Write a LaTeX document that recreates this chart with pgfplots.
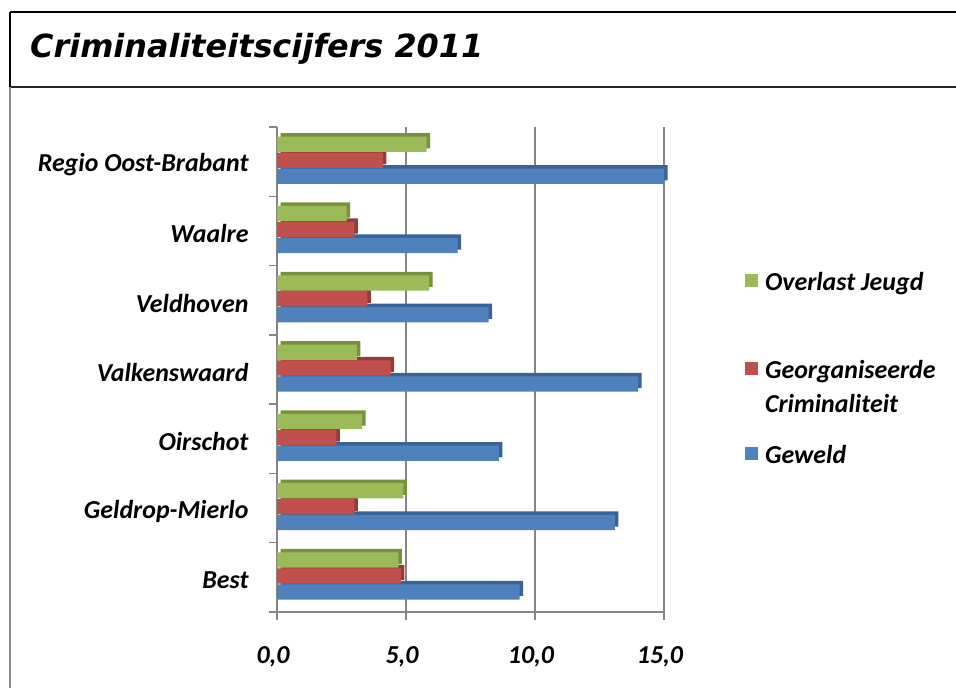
\documentclass[border=0pt]{standalone}
\usepackage{pgfplots}
\pgfplotsset{compat=1.18}
\usepackage{fontspec}
\setmainfont{Carlito}
\newfontfamily\titlefont{DejaVu Sans}

\definecolor{geweld}{HTML}{4F81BD}
\definecolor{geweldD}{HTML}{3A6497}
\definecolor{georg}{HTML}{C0504D}
\definecolor{georgD}{HTML}{953B39}
\definecolor{jeugd}{HTML}{9BBB59}
\definecolor{jeugdD}{HTML}{76923C}
\definecolor{axgray}{HTML}{868686}

\begin{document}
\begin{tikzpicture}
\useasboundingbox (0,0) rectangle (956bp,688bp);
% frame and title
\draw[black, line width=2bp] (10bp,676bp) -- (956bp,676bp);
\draw[black!85, line width=1.6bp] (10bp,601bp) -- (956bp,601bp);
\draw[black, line width=1.6bp] (10bp,676bp) -- (10bp,601bp);
\draw[black!45, line width=1.6bp] (10bp,601bp) -- (10bp,0bp);
\node[anchor=base west, inner sep=0pt, font=\titlefont\bfseries\itshape\fontsize{32}{36}\selectfont]
  at (30bp,630bp) {Criminaliteitscijfers 2011};

\begin{axis}[
    at={(277bp,76bp)}, anchor=south west,
    scale only axis,
    width=387bp, height=485bp,
    clip=false,
    xbar,
    bar width=0.22,
    xmin=0, xmax=15,
    ymin=-0.5, ymax=6.5,
    xtick={0,5,10,15},
    xticklabel={\pgfmathprintnumber[fixed,fixed zerofill,precision=1,use comma]{\tick}},
    ytick={0,...,6},
    yticklabels={Best,Geldrop-Mierlo,Oirschot,Valkenswaard,Veldhoven,Waalre,Regio Oost-Brabant},
    minor ytick={-0.5,0.5,...,6.5},
    major y tick style={draw=none},
    minor tick length=8bp,
    major tick length=8bp,
    tick align=outside,
    tick style={axgray, line width=1.3bp},
    axis x line*=bottom,
    axis y line*=left,
    axis line style={axgray, line width=1.3bp, -},
    xmajorgrids,
    grid style={axgray, line width=1.3bp},
    ticklabel style={font=\bfseries\itshape\fontsize{26}{30}\selectfont},
    /pgf/number format/assume math mode=true,
    xticklabel style={yshift=-23bp, xshift=-4bp},
    yticklabel style={xshift=-17bp, yshift=-3bp},
    legend style={draw=none, fill=none, at={(1.209,0.705)}, anchor=north west,
        inner sep=0pt, row sep=10bp, column sep=5bp,
        nodes={inner sep=2bp, anchor=base west},
        font=\bfseries\itshape\fontsize{26}{34}\selectfont},
    legend cell align=left,
    legend image code/.code={\fill[#1] (0bp,3bp) rectangle (13bp,16bp);},
    reverse legend,
]
\addplot[forget plot, fill=geweldD, draw=none, bar shift=-0.21, xshift=3.5bp, yshift=3.5bp]
  coordinates {(9.4,0) (13.1,1) (8.6,2) (14.0,3) (8.2,4) (7.0,5) (15.0,6)};
\addplot[fill=geweld, draw=none, bar shift=-0.21]
  coordinates {(9.4,0) (13.1,1) (8.6,2) (14.0,3) (8.2,4) (7.0,5) (15.0,6)};
\addlegendentry{Geweld}
\addplot[forget plot, fill=georgD, draw=none, bar shift=0.02, xshift=3.5bp, yshift=3.5bp]
  coordinates {(4.8,0) (3.0,1) (2.3,2) (4.4,3) (3.5,4) (3.0,5) (4.1,6)};
\addplot[fill=georg, draw=none, bar shift=0.02]
  coordinates {(4.8,0) (3.0,1) (2.3,2) (4.4,3) (3.5,4) (3.0,5) (4.1,6)};
\addlegendentry[text depth=53bp]{\begin{tabular}[t]{@{}l@{}}Georganiseerde\\Criminaliteit\end{tabular}}
\addplot[forget plot, fill=jeugdD, draw=none, bar shift=0.25, xshift=3.5bp, yshift=3.5bp]
  coordinates {(4.7,0) (4.9,1) (3.3,2) (3.1,3) (5.9,4) (2.7,5) (5.8,6)};
\addplot[fill=jeugd, draw=none, bar shift=0.25]
  coordinates {(4.7,0) (4.9,1) (3.3,2) (3.1,3) (5.9,4) (2.7,5) (5.8,6)};
\addlegendentry[text depth=50bp]{Overlast Jeugd}
\end{axis}
\end{tikzpicture}
\end{document}
